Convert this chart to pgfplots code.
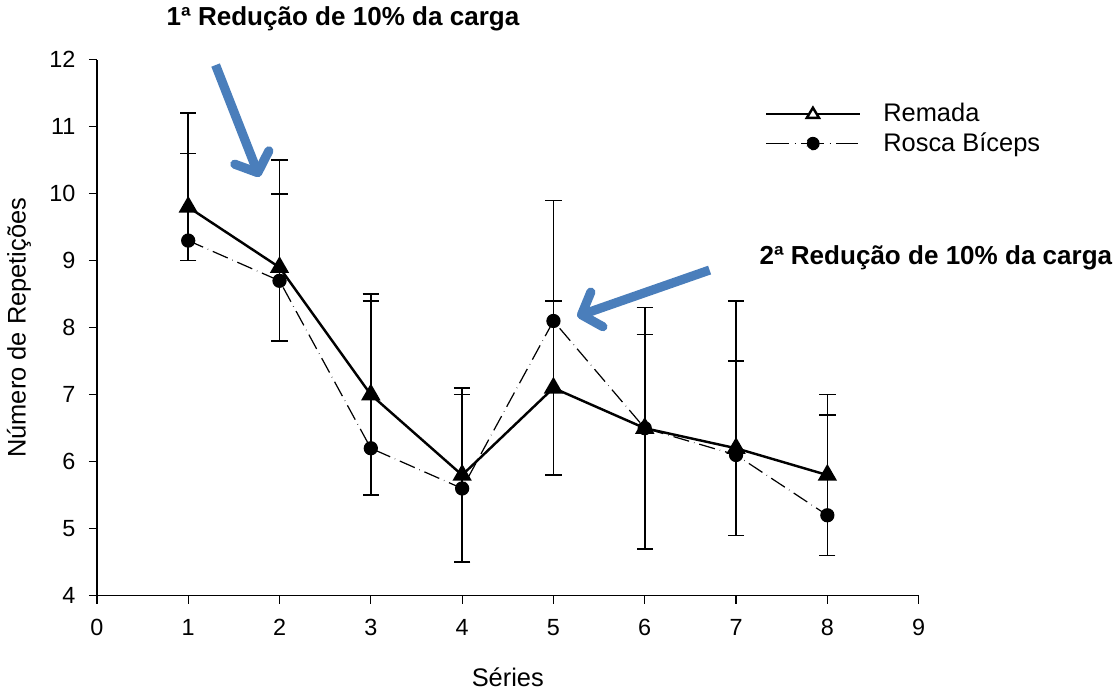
\documentclass[border=0pt]{standalone}
\usepackage{fontspec}
\setmainfont{Liberation Sans}
\usepackage{pgfplots}
\pgfplotsset{compat=1.18}
\usetikzlibrary{arrows.meta}
\definecolor{setaazul}{HTML}{4A7EBB}

% series, media, dp (Remada +/-), dp (Rosca, so para cima)
\pgfplotstableread{
x  rem  remerr  ros  roserr
1  9.8  0.8     9.3  1.9
2  8.9  1.1     8.7  1.8
3  7.0  1.5     6.2  2.2
4  5.8  1.3     5.6  1.4
5  7.1  1.3     8.1  1.8
6  6.5  1.8     6.5  1.4
7  6.2  1.3     6.1  2.3
8  5.8  1.2     5.2  1.5
}\dados

\begin{document}
\begin{tikzpicture}
\begin{axis}[
    scale only axis,
    width=404pt, height=263.5pt,
    xmin=0, xmax=9, ymin=4, ymax=12,
    xtick={0,...,9}, ytick={4,...,12},
    axis x line*=bottom, axis y line*=left,
    axis line style={line width=0.6pt},
    tick align=outside, major tick length=4pt,
    tick style={black, line width=0.6pt},
    /pgf/number format/assume math mode=true,
    tick label style={font=\fontsize{11.5}{13}\selectfont},
    xticklabel style={yshift=-4pt},
    yticklabel style={xshift=-3pt},
    xlabel={Séries}, ylabel={Número de Repetições},
    label style={font=\fontsize{12.5}{14}\selectfont},
    x label style={at={(axis description cs:0.5,-0.152)}, anchor=center},
    y label style={at={(axis description cs:-0.095,0.5)}, anchor=center},
    clip=false,
    legend style={at={(rel axis cs:0.805,0.935)}, anchor=north west,
        draw=none, fill=none, font=\fontsize{12.5}{14}\selectfont,
        row sep=0pt, /tikz/every even column/.append style={column sep=0pt}},
    legend cell align=left,
]
\addplot[black, line width=1.2pt, mark=triangle*, mark size=4.3pt,
    legend image code/.code={
        \draw[black, line width=1.2pt] (0pt,0pt) -- (46pt,0pt);
        \draw[black, line width=1.2pt, fill=white] (23pt,3pt) -- (20pt,-2pt) -- (26pt,-2pt) -- cycle;},
    error bars/.cd, y dir=both, y explicit,
    error bar style={line width=0.8pt},
    error mark options={rotate=90, mark size=4pt, line width=0.8pt}]
    table[x=x, y=rem, y error=remerr] {\dados};
\addlegendentry{\hspace{9pt}Remada}
\addplot[black, line width=0.6pt, dash pattern=on 8pt off 2.5pt on 0.2pt off 2.5pt,
    mark=*, mark size=3.2pt, mark options={solid},
    legend image code/.code={
        \draw[black, line width=0.6pt, dash pattern=on 11pt off 3pt on 0.2pt off 3pt] (0pt,0pt) -- (46pt,0pt);
        \fill[black] (23pt,0pt) circle (3pt);},
    error bars/.cd, y dir=plus, y explicit,
    error bar style={line width=0.8pt, solid},
    error mark options={rotate=90, mark size=4pt, line width=0.8pt, solid}]
    table[x=x, y=ros, y error=roserr] {\dados};
\addlegendentry{\hspace{9pt}Rosca Bíceps}

\draw[setaazul, line width=4.5pt, -{Straight Barb[length=8pt, width=18pt, round]}]
    (axis cs:1.30,11.92) -- (axis cs:1.78,10.25);
\draw[setaazul, line width=4.5pt, -{Straight Barb[length=8pt, width=18pt, round]}]
    (axis cs:6.71,8.86) -- (axis cs:5.26,8.17);
\node[font=\fontsize{12.8}{14}\bfseries] at (rel axis cs:0.2995,1.076) {1ª Redução de 10\% da carga};
\node[font=\fontsize{12.8}{14}\bfseries] at (rel axis cs:1.021,0.630) {2ª Redução de 10\% da carga};
\end{axis}
\end{tikzpicture}
\end{document}
